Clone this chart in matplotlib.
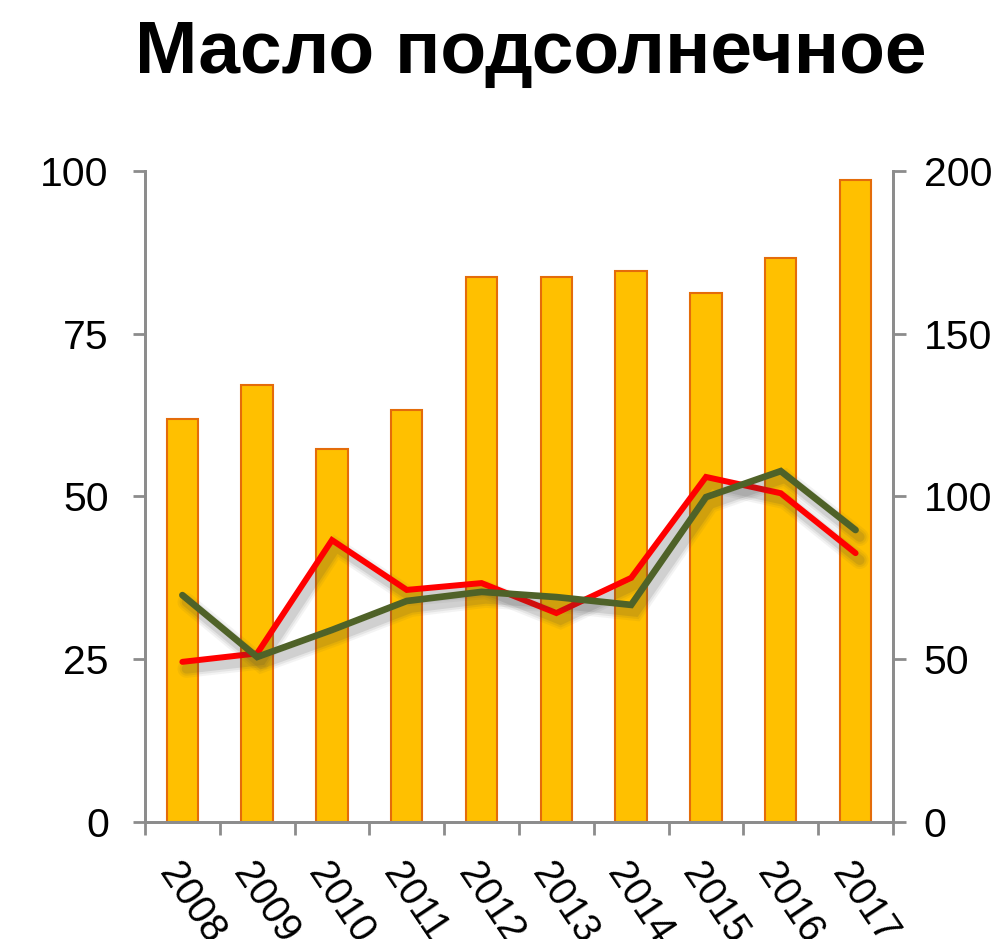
"""Sunflower oil chart: bars on the left axis, two lines on the right axis."""

import matplotlib
matplotlib.use("Agg")
import matplotlib.pyplot as plt
import matplotlib.patheffects as pe
import matplotlib.transforms as mtransforms
import numpy as np

YEARS = ["2008", "2009", "2010", "2011", "2012", "2013", "2014", "2015", "2016", "2017"]
BAR_VALUES = [61.9, 67.1, 57.3, 63.3, 83.7, 83.7, 84.6, 81.3, 86.6, 98.6]
RED_VALUES = [49.2, 51.8, 86.6, 71.3, 73.4, 64.2, 75.0, 106.0, 101.0, 82.6]
GREEN_VALUES = [69.7, 50.7, 59.0, 67.9, 70.7, 69.1, 66.7, 99.8, 107.8, 89.7]

LEFT_TICKS = [0, 25, 50, 75, 100]
RIGHT_TICKS = [0, 50, 100, 150, 200]

SPINE = "#8c8c8c"

plt.rcParams["font.family"] = ["Liberation Sans", "DejaVu Sans"]


def soft_shadow():
    # a few widening translucent copies fake the blurred drop shadow
    effects = []
    for lw, alpha in ((13, 0.06), (10, 0.08), (7, 0.12)):
        effects.append(pe.SimpleLineShadow(offset=(3, -5), shadow_color="#404040",
                                           alpha=alpha, linewidth=lw))
    effects.append(pe.Normal())
    return effects


def main():
    fig = plt.figure(figsize=(10.04, 9.39), dpi=100)
    ax = fig.add_axes([0.1444, 0.1246, 0.745, 0.6933])
    ax2 = ax.twinx()

    x = np.arange(len(YEARS))
    ax.bar(x, BAR_VALUES, width=0.42, color="#ffc000", edgecolor="#e46c0a",
           linewidth=1.5, zorder=2)

    ax2.plot(x, RED_VALUES, color="#ff0000", lw=4.3, solid_capstyle="round",
             solid_joinstyle="miter", path_effects=soft_shadow(), zorder=3)
    ax2.plot(x, GREEN_VALUES, color="#4f6228", lw=4.8, solid_capstyle="round",
             solid_joinstyle="miter", path_effects=soft_shadow(), zorder=4)

    ax.set_xlim(-0.5, len(YEARS) - 0.5)
    ax.set_ylim(0, 100)
    ax2.set_ylim(0, 200)
    ax.set_yticks(LEFT_TICKS)
    ax2.set_yticks(RIGHT_TICKS)

    ax.set_xticks(x)
    ax.set_xticklabels(YEARS, rotation=-56, ha="left", va="top",
                       rotation_mode="anchor", fontsize=28.5)
    shift = mtransforms.ScaledTranslation(14 / 100, 0, fig.dpi_scale_trans)
    for lab in ax.get_xticklabels():
        lab.set_transform(lab.get_transform() + shift)
    ax.set_xticks(np.arange(len(YEARS) + 1) - 0.5, minor=True)
    ax.tick_params(axis="x", which="major", length=0, pad=25)
    ax.tick_params(axis="x", which="minor", length=9, width=2, color=SPINE)
    ax.tick_params(axis="y", length=9, width=2, color=SPINE, labelsize=29.5, pad=17)
    ax2.tick_params(axis="y", length=9, width=2, color=SPINE, labelsize=29.5, pad=13)

    for a in (ax, ax2):
        a.spines["top"].set_visible(False)
        for side in ("left", "right", "bottom"):
            a.spines[side].set_color(SPINE)
            a.spines[side].set_linewidth(2)

    fig.text(0.529, 0.9223, "Масло подсолнечное", ha="center", va="baseline",
             fontsize=54, fontweight="bold")

    fig.savefig("out.png", dpi=100)


if __name__ == "__main__":
    main()
